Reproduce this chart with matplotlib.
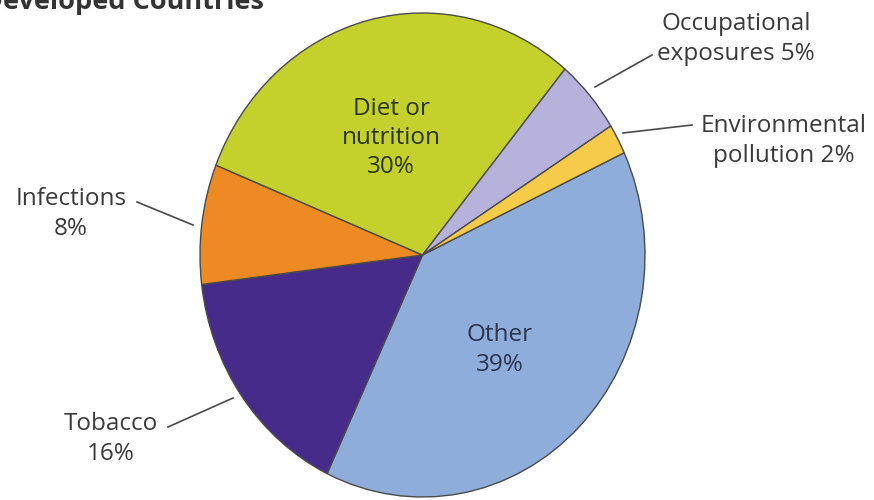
import matplotlib.pyplot as plt

# data
categories = ["Other", "Tobacco", "Infections", "Diet or nutrition",
              "Occupational exposures", "Environmental pollution"]
shares = [39, 16, 8, 30, 5, 2]
colors = ["#8fadda", "#472b8b", "#ee8a24", "#c4d12c", "#b7b2dc", "#f7cb4a"]

W, H = 874, 500
CX, CY = 422.5, 255      # pie centre in image pixels
RX, RY = 222.5, 242      # pie is slightly taller than wide


def px(x, y):
    # image pixel -> data coords (unit pie)
    return (x - CX) / RX, (CY - y) / RY


plt.rcParams['font.family'] = ['Open Sans', 'DejaVu Sans']

fig = plt.figure(figsize=(W / 100, H / 100), dpi=100)
ax = fig.add_axes([0, 0, 1, 1])

ax.pie(shares, colors=colors, startangle=25, counterclock=False,
       radius=1, wedgeprops=dict(edgecolor="#4a4a4a", linewidth=1.0))
ax.set_aspect('auto')
ax.set_xlim(px(0, 0)[0], px(W, 0)[0])
ax.set_ylim(px(0, H)[1], px(0, 0)[1])
ax.axis('off')

txt = "#3a3a3a"
fs = 17.5
ls = 1.3

# labels inside
ax.text(*px(391, 138), f"Diet or\nnutrition\n{shares[3]}%", ha='center', va='center',
        fontsize=fs, color="#2e3310", linespacing=ls)
ax.text(*px(500, 350), f"Other\n{shares[0]}%", ha='center', va='center',
        fontsize=fs, color="#2a3550", linespacing=ls)

# labels outside with leader lines
outside = [
    ("Occupational\nexposures %d%%" % shares[4], (736, 39), (652, 55), (595, 87)),
    ("Environmental\npollution %d%%" % shares[5], (784, 141), (692, 125), (623, 133)),
    ("Infections\n%d%%" % shares[2], (71, 214), (137, 202), (193, 225)),
    ("Tobacco\n%d%%" % shares[1], (111, 439), (168, 427), (233, 398)),
]
for label, tpos, p0, p1 in outside:
    ax.text(*px(*tpos), label, ha='center', va='center', fontsize=fs,
            color=txt, linespacing=ls)
    x0, y0 = px(*p0)
    x1, y1 = px(*p1)
    ax.plot([x0, x1], [y0, y1], color="#4a4a4a", linewidth=1.2)

# title, cut off at the top of the picture as in the source
fig.text(264 / W, 1 - 9 / H, "Developed Countries", ha='right', va='baseline',
         fontsize=19.5, fontweight='bold', color="#333333")

fig.savefig("out.png", dpi=100)
